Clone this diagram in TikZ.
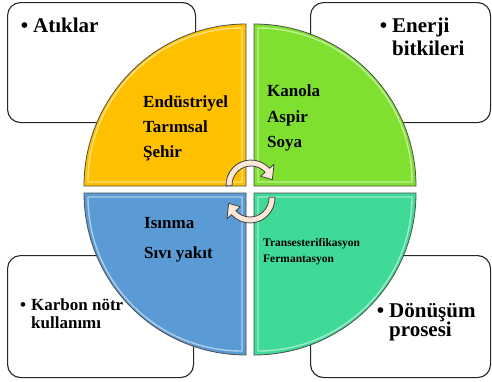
\documentclass[tikz,border=0pt]{standalone}
\usepackage{fontspec}
\setmainfont{Liberation Serif}
\definecolor{qyellow}{HTML}{FFC000}
\definecolor{qgreen}{HTML}{7FE030}
\definecolor{qblue}{HTML}{5B9BD5}
\definecolor{qteal}{HTML}{3FDA98}
\definecolor{cream}{HTML}{FBE8D6}

\begin{document}
\begin{tikzpicture}[x=1pt, y=-1pt,
box/.style = {draw=black!85, line width=1.1pt, rounded corners=13pt, fill=white, anchor=north west},
words/.style = {anchor=north west, inner sep=0pt, align=left},
quarter/.style = {fill=#1, draw=black!70, line width=0.8pt},
shine/.style = {draw=white, opacity=0.5, line width=1.4pt},
spin/.style = {fill=cream, draw=black!75, line width=0.8pt, line join=round}]
\useasboundingbox (0,0) rectangle (492,381);
\node[box, minimum width=188pt, minimum height=120pt] (atik) at (7,2) {};
\node[box, minimum width=180pt, minimum height=120pt] (enerji) at (310,2) {};
\node[box, minimum width=186pt, minimum height=122pt] (karbon) at (7,255) {};
\node[box, minimum width=180pt, minimum height=122pt] (donusum) at (310,255) {};
\node[words, font=\bfseries\fontsize{21}{23}\selectfont] (atiklar) at (33,17.8) {\llap{•\hspace{5pt}}Atıklar};
\node[words, font=\bfseries\fontsize{21}{23}\selectfont] (bitki) at (392,17.5) {\llap{•\hspace{5pt}}Enerji\\bitkileri};
\node[words, font=\bfseries\fontsize{17}{17.7}\selectfont] (notr) at (31,298.5) {\llap{•\hspace{5pt}}Karbon nötr\\kullanımı};
\node[words, font=\bfseries\fontsize{21}{19.5}\selectfont] (proses) at (389,303) {\llap{•\hspace{5pt}}Dönüşüm\\prosesi};

\draw[quarter=qyellow] (246,186) -- (84,186) arc[start angle=180, end angle=270, radius=162] -- cycle;
\draw[shine] (242,182) -- (88,182) arc[start angle=180, end angle=270, radius=154] -- cycle;
\draw[quarter=qgreen] (254,186) -- (254,24) arc[start angle=270, end angle=360, radius=162] -- cycle;
\draw[shine] (258,182) -- (258,28) arc[start angle=270, end angle=360, radius=154] -- cycle;
\draw[quarter=qteal] (254,193) -- (416,193) arc[start angle=0, end angle=90, radius=162] -- cycle;
\draw[shine] (258,197) -- (412,197) arc[start angle=0, end angle=90, radius=154] -- cycle;
\draw[quarter=qblue] (246,193) -- (246,355) arc[start angle=90, end angle=180, radius=162] -- cycle;
\draw[shine] (242,197) -- (242,351) arc[start angle=90, end angle=180, radius=154] -- cycle;

\node[words, font=\bfseries\fontsize{17}{25}\selectfont] (sanayi) at (143,95.5) {Endüstriyel\\Tarımsal\\Şehir};
\node[words, font=\bfseries\fontsize{17}{25.5}\selectfont] (yagli) at (267,84.5) {Kanola\\Aspir\\Soya};
\node[words, font=\bfseries\fontsize{17}{30}\selectfont] (yakit) at (144,216.7) {Isınma\\Sıvı yakıt};
\node[words, font=\bfseries\fontsize{11.5}{16}\selectfont] (islem) at (263,238) {Transesterifikasyon\\Fermantasyon};

\begin{scope}[shift={(251,185)}]
\draw[spin] (178:25) arc[start angle=178, end angle=318, radius=25] -- (318:31) -- (346:22) -- (318:13) -- (318:19) arc[start angle=318, end angle=178, radius=19] -- cycle;
\end{scope}
\begin{scope}[shift={(250,198)}]
\draw[spin] (-2:25) arc[start angle=-2, end angle=138, radius=25] -- (138:31) -- (166:22) -- (138:13) -- (138:19) arc[start angle=138, end angle=-2, radius=19] -- cycle;
\end{scope}
\end{tikzpicture}
\end{document}
